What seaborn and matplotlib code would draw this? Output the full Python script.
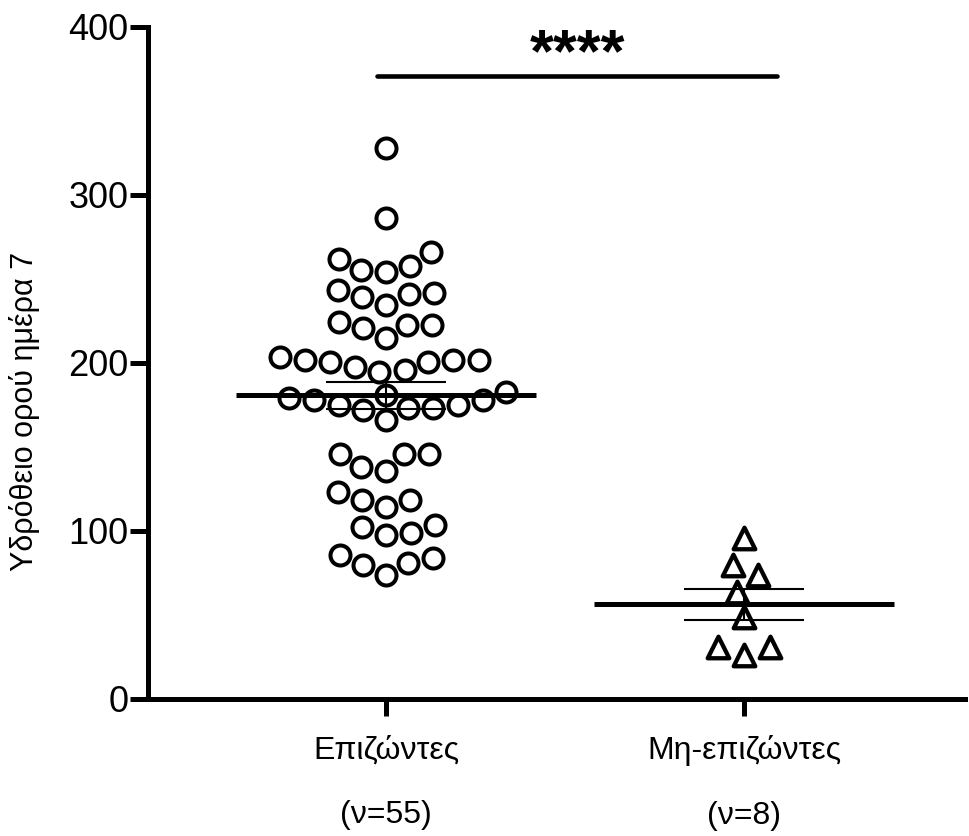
import numpy as np
import pandas as pd
import matplotlib
matplotlib.use("Agg")
import matplotlib.pyplot as plt
import seaborn as sns

# Group names and their sample-size captions
groups = ["Επιζώντες", "Μη-επιζώντες"]
group_sizes = ["(ν=55)", "(ν=8)"]

# Serum hydrogen sulfide on day 7, per patient
survivors = [328, 286.5,
             262, 266, 254, 258, 255.5, 239, 234.5, 243.5, 241, 241.5,
             222.6, 224.6, 222.6, 220.7, 214.7,
             201.8, 201.8, 197.8, 203.8, 201.8, 194.8, 200.8, 200.8, 195.8,
             173.2, 173.2, 178, 183, 178, 181, 179, 175, 175, 172, 166,
             146, 146, 146, 138, 136,
             118.5, 118.5, 123.4, 114.5,
             98.6, 102.6, 97.6, 103.6,
             79.8, 81, 85.7, 83.8, 73.8]
non_survivors = [96, 79.8, 73.8, 63.5, 48.6, 31, 31, 26.4]

y_ticks = [0, 100, 200, 300, 400]
y_label = "Υδρόθειο ορού ημέρα 7"
significance = "****"

sns.set_style("ticks")
plt.rcParams["font.family"] = ["Liberation Sans", "DejaVu Sans"]
plt.rcParams["text.color"] = "black"

W, H = 970, 836
fig = plt.figure(figsize=(W / 100, H / 100), dpi=100)
ax = fig.add_axes([148 / W, 1 - 699 / H, (965 - 148) / W, (699 - 27) / H])

series = [survivors, non_survivors]
markers = ["o", "^"]
msizes = [14.4, 15.5]
mwidths = [2.9, 3.1]

for i, (vals, mk, ms, mw) in enumerate(zip(series, markers, msizes, mwidths)):
    df = pd.DataFrame({"group": groups[i], "value": vals})
    sns.swarmplot(data=df, x="group", y="value", order=groups, marker=mk,
                  size=ms, color="white", edgecolor="black", linewidth=mw,
                  ax=ax, zorder=3, warn_thresh=1.0)

# Mean with SEM for each group
for i, vals in enumerate(series):
    v = np.asarray(vals, dtype=float)
    mean = v.mean()
    sem = v.std(ddof=1) / np.sqrt(len(v))
    ax.errorbar([i], [mean], yerr=[sem], fmt="none", ecolor="black",
                elinewidth=1.5, capsize=43, capthick=1.5, zorder=4)
    ax.hlines(mean, i - 0.42, i + 0.42, color="black", lw=3.6, zorder=5)

# Significance bracket
ax.plot([-0.025, 1.092], [371, 371], color="black", lw=3.3,
        solid_capstyle="round", clip_on=False, zorder=5)
ax.text(0.534, 383, significance, ha="center", va="center", color="black",
        fontsize=44, fontweight="bold", clip_on=False)

ax.set_xlim(-0.665, 1.617)
ax.set_ylim(0, 400)
ax.set_yticks(y_ticks)
ax.set_yticklabels([str(t) for t in y_ticks])
ax.set_xticks(range(len(groups)))
ax.set_xticklabels([f"{g}\n{n}" for g, n in zip(groups, group_sizes)],
                   linespacing=2.5)
ax.set_xlabel("")
ax.set_ylabel("")

for side in ["top", "right"]:
    ax.spines[side].set_visible(False)
for side in ["left", "bottom"]:
    ax.spines[side].set_linewidth(3.6)
    ax.spines[side].set_color("black")
    ax.spines[side].set_capstyle("projecting")

ax.tick_params(axis="y", length=13, width=3.6, labelsize=26, pad=1,
               colors="black")
ax.tick_params(axis="x", length=12, width=3.6, labelsize=23, pad=14,
               colors="black")

fig.text(25 / W, 1 - 411 / H, y_label, rotation=90, ha="center",
         va="center", fontsize=22, color="black")

fig.savefig("out.png", dpi=100, facecolor="white")
